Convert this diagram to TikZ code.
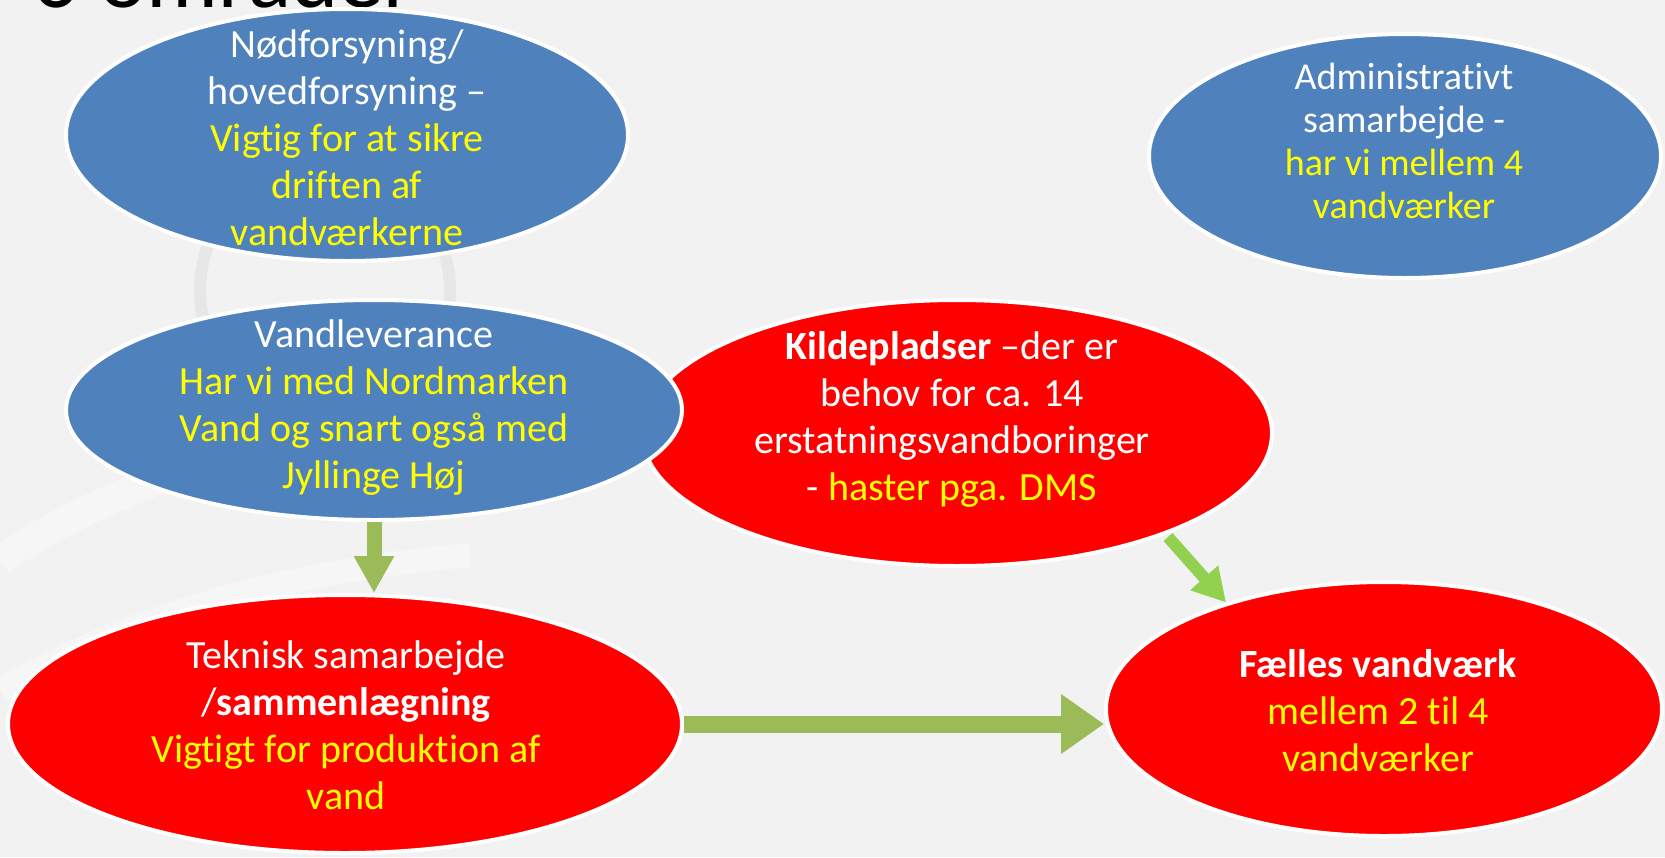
\documentclass[tikz,border=0pt]{standalone}
\usepackage{fontspec}
\setmainfont{Carlito}[Ligatures={NoCommon}]
\usetikzlibrary{shapes.geometric,arrows.meta}
\definecolor{bg}{HTML}{F2F2F2}
\definecolor{blu}{HTML}{4F81BD}
\definecolor{rd}{HTML}{FF0000}
\definecolor{ylw}{HTML}{FFFF00}
\definecolor{grn}{HTML}{9BBB59}
\definecolor{lgrn}{HTML}{92D050}
\definecolor{arcdark}{HTML}{E7E7E7}
\definecolor{arclight}{HTML}{F6F6F6}
\tikzset{
  ell/.style={ellipse, draw=white, line width=4pt, inner sep=0pt},
  bluell/.style={ell, fill=blu},
  redell/.style={ell, fill=rd},
  txt/.style={text=white, align=center, font=\fontsize{40}{47}\selectfont, inner sep=0pt},
  txtsmall/.style={txt, font=\fontsize{38}{43}\selectfont},
  vertarrow/.style={draw=grn, line width=15pt, -{Triangle[length=37pt,width=38pt]}},
  horarrow/.style={draw=grn, line width=17pt, -{Triangle[length=43pt,width=57pt]}},
  slimarrow/.style={draw=lgrn, line width=12pt, -{Triangle[length=33pt,width=35pt]}},
}
\begin{document}
\begin{tikzpicture}[x=1pt,y=-1pt]
\useasboundingbox (0,0) rectangle (1665,857);
\fill[bg] (0,0) rectangle (1665,857);
\begin{scope}
\clip (0,0) rectangle (1665,857);
% faint background decoration
\draw[arclight, line width=30pt] (0,560) .. controls (120,480) and (260,440) .. (420,420);
\draw[arclight, line width=24pt] (0,690) .. controls (140,610) and (300,570) .. (470,555);
\draw[arcdark, line width=12pt] (325,290) circle[radius=125];
% title fragment
\node[anchor=base west, inner sep=0pt, font=\fontsize{90}{100}\selectfont] (title) at (33,7) {6 områder};
\end{scope}

% ellipses
\node[bluell, minimum width=562pt, minimum height=252pt] (A) at (347,135) {};
\node[bluell, minimum width=512pt, minimum height=244pt] (B) at (1405,156) {};
\node[redell, minimum width=630pt, minimum height=266pt] (D) at (957,433) {};
\node[bluell, minimum width=616pt, minimum height=220pt] (C) at (374,410) {};
\node[redell, minimum width=674pt, minimum height=258pt] (E) at (345,724) {};
\node[redell, minimum width=556pt, minimum height=254pt] (F) at (1384,709) {};

% texts
\node[txt] (At) at (347,138) {Nødforsyning/\\hovedforsyning –\\\textcolor{ylw}{Vigtig for at sikre}\\\textcolor{ylw}{driften af}\\\textcolor{ylw}{vandværkerne}};
\node[txtsmall] (Bt) at (1404,141) {Administrativt\\samarbejde -\\\textcolor{ylw}{har vi mellem 4}\\\textcolor{ylw}{vandværker}};
\node[txt] (Ct) at (374,408) {Vandleverance\\\textcolor{ylw}{Har vi med Nordmarken}\\\textcolor{ylw}{Vand og snart også med}\\\textcolor{ylw}{Jyllinge Høj}};
\node[txt] (Dt) at (952,419) {\textbf{Kildepladser} –der er\\behov for ca. 14\\erstatningsvandboringer\\- \textcolor{ylw}{haster pga. DMS}};
\node[txt] (Et) at (346,725) {Teknisk samarbejde\\/\textbf{sammenlægning}\\\textcolor{ylw}{Vigtigt for produktion af}\\\textcolor{ylw}{vand}};
\node[txt] (Ft) at (1378,711) {\textbf{Fælles vandværk}\\\textcolor{ylw}{mellem 2 til 4}\\\textcolor{ylw}{vandværker}};

% connectors
\draw[vertarrow] (C.south) -- (C.south |- E.north);
\draw[horarrow] (E.east) -- (F.west |- E.east);
\coordinate (dstart) at (1168,537);
\draw[slimarrow] (dstart) -- (F.146);
\end{tikzpicture}
\end{document}
